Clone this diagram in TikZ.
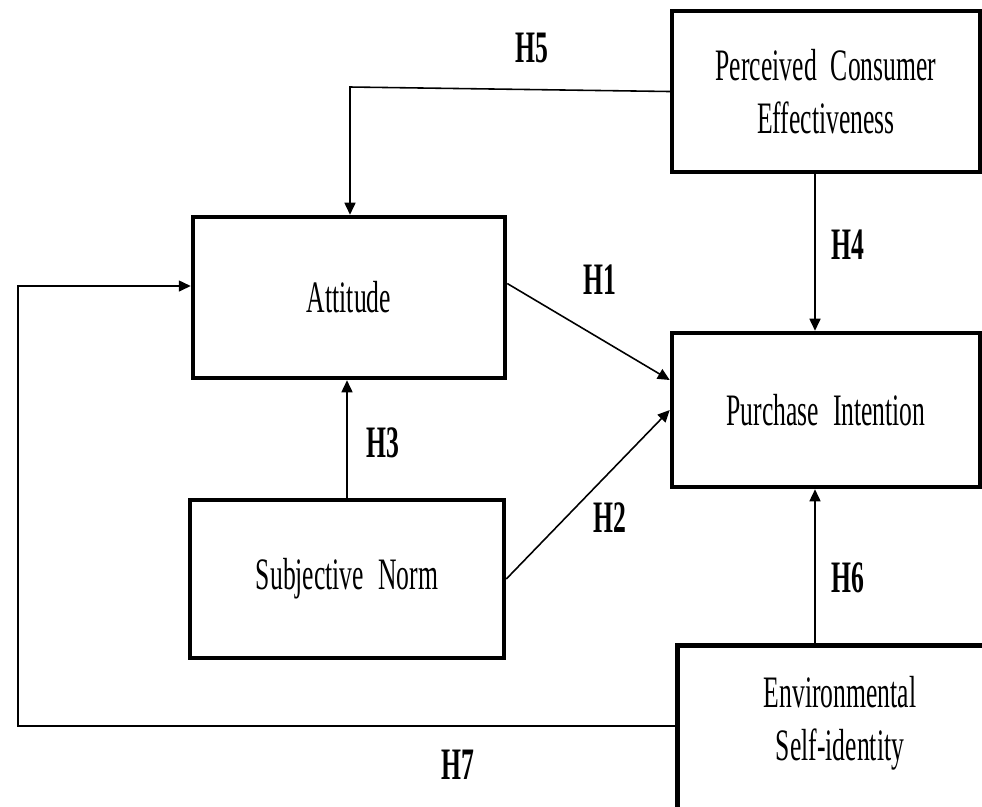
\documentclass[tikz,border=0pt]{standalone}
\usepackage{fontspec}
\setmainfont{Liberation Serif}[FakeStretch=0.57,WordSpace=2.2]
\usetikzlibrary{arrows.meta}
\tikzset{box/.style={draw, line width=2.6pt, align=center,
   font=\fontsize{25.6}{30}\selectfont},
 hyp/.style={font=\fontsize{25.6}{30}\selectfont\bfseries},
 link/.style={draw, line width=0.9pt, -{Triangle[length=0.24cm,width=0.22cm]}},
 }

\begin{document}
\begin{tikzpicture}[x=0.02cm, y=-0.02cm]
        \useasboundingbox (0,0) rectangle (982,806);
        \clip (0,0) rectangle (982,806);
        % constructs
        \node[box, minimum width=6.16cm, minimum height=3.22cm] (pce) at (826,91.5) {Perceived Consumer\\Effectiveness};
        \node[box, minimum width=6.24cm, minimum height=3.22cm] (att) at (349,297.5) {Attitude};
        \node[box, minimum width=6.16cm, minimum height=3.08cm] (pi) at (826,410) {Purchase Intention};
        \node[box, minimum width=6.28cm, minimum height=3.16cm] (sn) at (347,579) {Subjective Norm};
        \node[box, minimum width=6.6cm, minimum height=4.4cm, anchor=north west] (env) at (675,643) {};
        \node[font=\fontsize{25.6}{30}\selectfont, align=center] (envtext) at (840,723) {Environmental\\Self-identity};
        % bends of the long paths
        \coordinate (h5bend) at (350,87);
        \coordinate (h7low) at (18,726);
        \coordinate (h7high) at (18,286);
        \coordinate (h4top) at (815,172);
        \coordinate (h6top) at (815,487);
        % hypotheses
        \path[link] ([yshift=0.28cm]att.east) -- ([yshift=0.6cm]pi.west);
        \path[link] (sn.east) -- (pi.west);
        \path[link] (sn.north) -- (sn.north |- att.south);
        \path[link] (h4top |- pce.south) -- (h4top |- pi.north);
        \path[link] (pce.west) -- (h5bend) -- (h5bend |- att.north);
        \path[link] (h6top |- env.north) -- (h6top |- pi.south);
        \path[link] (env.north west |- h7low) -- (h7low) -- (h7high) -- (h7high -| att.west);
        % labels
        \node[hyp] (h1) at (600,280) {H1};
        \node[hyp] (h2) at (610,518) {H2};
        \node[hyp] (h3) at (383,443) {H3};
        \node[hyp] (h4) at (848,245) {H4};
        \node[hyp] (h5) at (532,48) {H5};
        \node[hyp] (h6) at (848,578) {H6};
        \node[hyp] (h7) at (458,765) {H7};
    \end{tikzpicture}
\end{document}
